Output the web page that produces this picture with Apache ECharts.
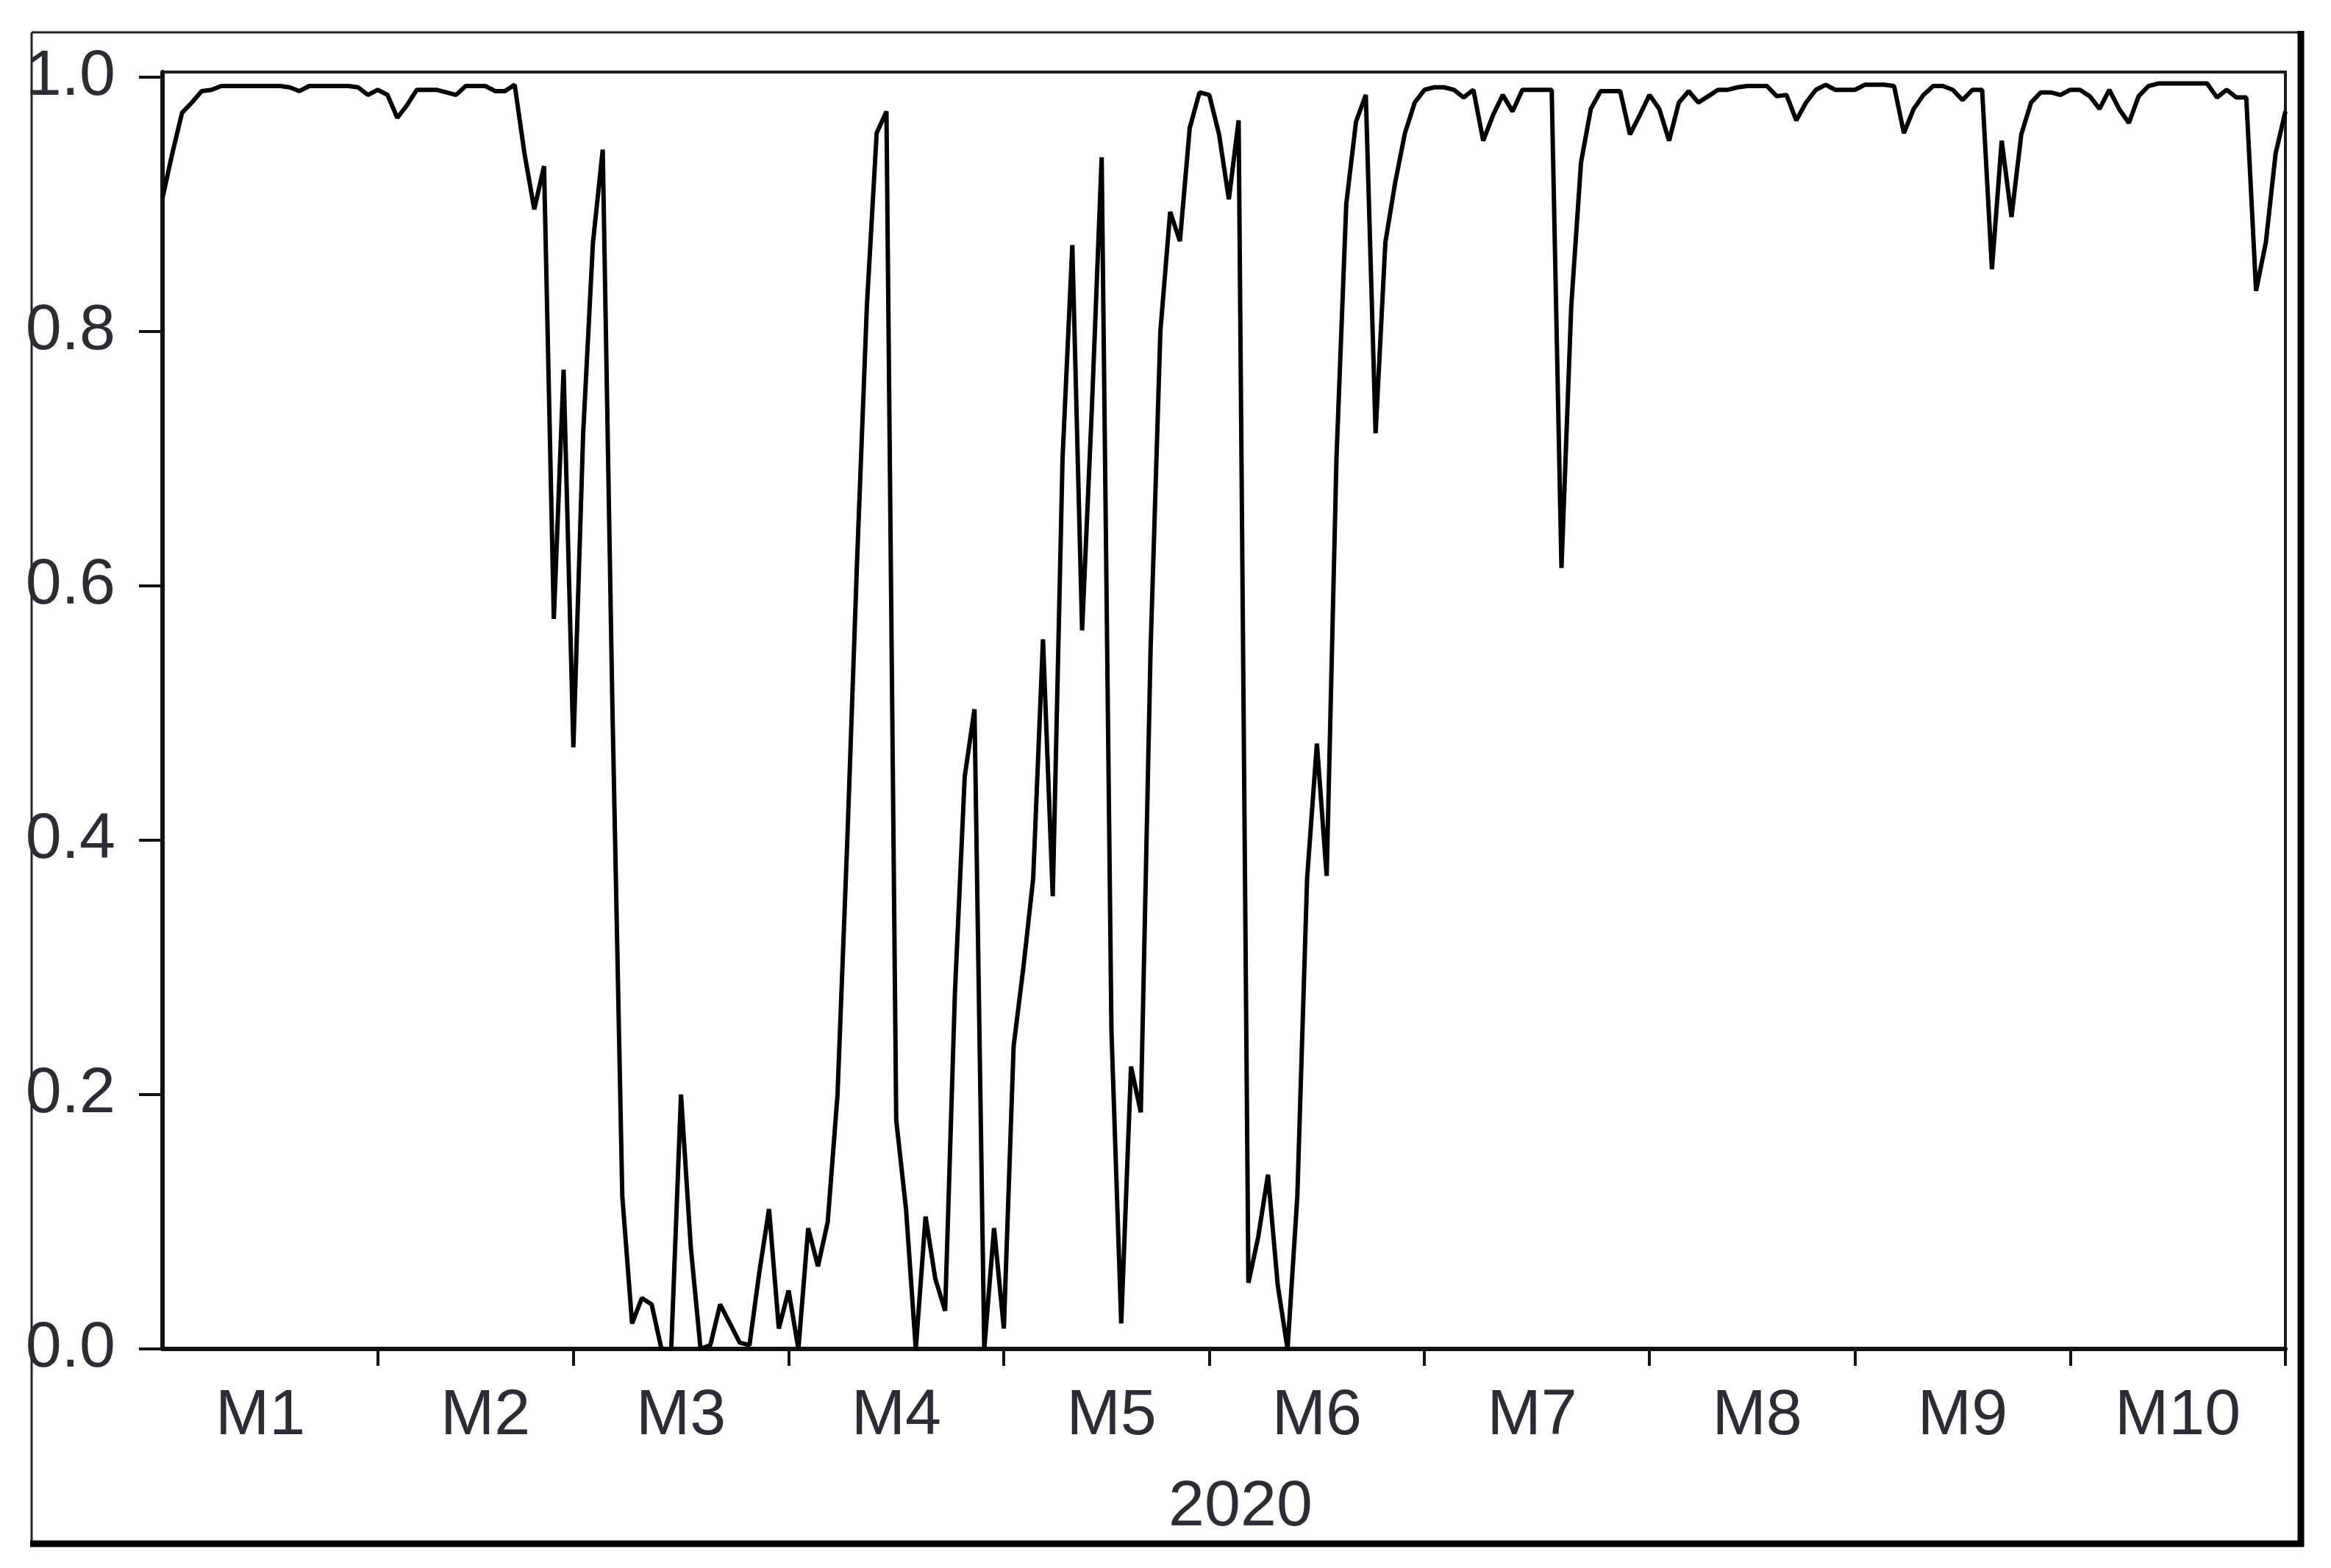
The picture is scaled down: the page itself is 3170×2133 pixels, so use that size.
<!DOCTYPE html>
<html>
<head>
<meta charset="utf-8">
<script src="https://cdn.jsdelivr.net/npm/echarts@6/dist/echarts.min.js"></script>
<style>
html, body { margin: 0; padding: 0; background: #fff; }
#chart { width: 3170px; height: 2133px; }
</style>
</head>
<body>
<div id="chart"></div>
<script>
// smoothed probability, one value per weekday, 2020-01-01 .. 2020-10-30
var jan = [0.905, 0.94, 0.972, 0.98, 0.989, 0.99, 0.993, 0.993, 0.993, 0.993, 0.993, 0.993, 0.993, 0.992, 0.989, 0.993, 0.993, 0.993, 0.993, 0.993, 0.992, 0.986, 0.99];
var feb = [0.986, 0.968, 0.978, 0.99, 0.99, 0.99, 0.988, 0.986, 0.993, 0.993, 0.993, 0.989, 0.989, 0.994, 0.94, 0.896, 0.93, 0.574, 0.77, 0.473];
var mar = [0.72, 0.87, 0.943, 0.50, 0.12, 0.02, 0.04, 0.035, 0.0, 0.0, 0.20, 0.08, 0.0, 0.003, 0.035, 0.02, 0.005, 0.003, 0.06, 0.11, 0.016, 0.046];
var apr = [0.0, 0.095, 0.065, 0.10, 0.20, 0.40, 0.62, 0.82, 0.956, 0.973, 0.18, 0.11, 0.0, 0.104, 0.055, 0.03, 0.28, 0.45, 0.503, 0.0, 0.095, 0.016];
var may = [0.238, 0.30, 0.37, 0.558, 0.356, 0.70, 0.868, 0.565, 0.74, 0.937, 0.25, 0.02, 0.222, 0.186, 0.55, 0.80, 0.894, 0.871, 0.96, 0.988, 0.986];
var jun = [0.955, 0.904, 0.966, 0.052, 0.088, 0.137, 0.05, 0.0, 0.12, 0.37, 0.476, 0.372, 0.70, 0.90, 0.965, 0.986, 0.72, 0.87, 0.917, 0.956, 0.98, 0.99];
var jul = [0.992, 0.992, 0.99, 0.984, 0.99, 0.95, 0.97, 0.986, 0.973, 0.99, 0.99, 0.99, 0.99, 0.614, 0.82, 0.933, 0.975, 0.989, 0.989, 0.989, 0.955, 0.97, 0.986];
var aug = [0.975, 0.95, 0.98, 0.989, 0.98, 0.985, 0.99, 0.99, 0.992, 0.993, 0.993, 0.993, 0.985, 0.986, 0.966, 0.98, 0.99, 0.994, 0.99, 0.99, 0.99];
var sep = [0.994, 0.994, 0.994, 0.993, 0.956, 0.975, 0.986, 0.993, 0.993, 0.99, 0.982, 0.99, 0.99, 0.849, 0.95, 0.89, 0.955, 0.98, 0.988, 0.988, 0.986, 0.99];
var oct = [0.99, 0.985, 0.975, 0.99, 0.975, 0.964, 0.985, 0.993, 0.995, 0.995, 0.995, 0.995, 0.995, 0.995, 0.984, 0.99, 0.984, 0.984, 0.832, 0.87, 0.94, 0.973];

var monthLabels = ['M1', 'M2', 'M3', 'M4', 'M5', 'M6', 'M7', 'M8', 'M9', 'M10'];
var yTicks = [0, 0.2, 0.4, 0.6, 0.8, 1.0];
var yearLabel = '2020';

var values = [].concat(jan, feb, mar, apr, may, jun, jul, aug, sep, oct);

// weekday calendar (5-day data)
var days = [];
var d = new Date(2020, 0, 1);
while (days.length < values.length) {
    if (d.getDay() !== 0 && d.getDay() !== 6) days.push(new Date(d.getTime()));
    d.setDate(d.getDate() + 1);
}
var cats = [], posInMonth = [];
for (var i = 0; i < days.length; i++) {
    var m = days[i].getMonth();
    cats.push(days[i].getFullYear() + '-' + (m + 1 < 10 ? '0' : '') + (m + 1) + '-' + days[i].getDate());
    posInMonth.push(i > 0 && days[i - 1].getMonth() === m ? posInMonth[i - 1] + 1 : 0);
}
function monthEnd(idx) {
    return idx === days.length - 1 || days[idx + 1].getMonth() !== days[idx].getMonth();
}

var font = '"Liberation Sans Narrow", "Liberation Sans", Arial, sans-serif';
var txt = '#2e2a36';

var option = {
    backgroundColor: '#fff',
    animation: false,
    grid: {
        left: 221, right: 62, top: 98, bottom: 298,
        show: true, borderColor: '#1a1a1a', borderWidth: 4
    },
    xAxis: {
        type: 'category',
        data: cats,
        boundaryGap: false,
        name: yearLabel,
        nameLocation: 'middle',
        nameGap: 172,
        nameTextStyle: { fontFamily: font, fontSize: 88, color: txt, padding: [0, 0, 0, 45] },
        axisLine: { lineStyle: { color: '#111', width: 6 } },
        axisTick: {
            inside: false, length: 23,
            interval: function (idx) { return monthEnd(idx); },
            lineStyle: { color: '#111', width: 4 }
        },
        axisLabel: {
            margin: 48,
            interval: function (idx) { return posInMonth[idx] === 10; },
            formatter: function (val, idx) { return monthLabels[days[idx].getMonth()]; },
            fontFamily: font, fontSize: 88, color: txt
        },
        splitLine: { show: false }
    },
    yAxis: {
        type: 'value',
        min: 0,
        max: 1.004,
        axisLine: { show: true, lineStyle: { color: '#111', width: 6 } },
        axisTick: { show: true, length: 32, customValues: yTicks, lineStyle: { color: '#111', width: 4 } },
        axisLabel: {
            margin: 64,
            customValues: yTicks,
            formatter: function (v) { return v.toFixed(1); },
            fontFamily: font, fontSize: 88, color: txt,
            padding: [0, 0, 18, 0]
        },
        splitLine: { show: false }
    },
    series: [{
        type: 'line',
        data: values,
        symbol: 'none',
        lineStyle: { color: '#000', width: 6 },
        z: 3
    }],
    graphic: [
        // outer picture frame, heavier bottom/right edge
        { type: 'line', shape: { x1: 43, y1: 44, x2: 3129, y2: 44 }, style: { stroke: '#222', lineWidth: 3 } },
        { type: 'line', shape: { x1: 43, y1: 44, x2: 43, y2: 2100 }, style: { stroke: '#222', lineWidth: 3 } },
        { type: 'line', shape: { x1: 3129, y1: 42, x2: 3129, y2: 2104 }, style: { stroke: '#000', lineWidth: 9 } },
        { type: 'line', shape: { x1: 41, y1: 2100, x2: 3133, y2: 2100 }, style: { stroke: '#000', lineWidth: 9 } }
    ]
};

var chart = echarts.init(document.getElementById('chart'));
chart.setOption(option);
</script>
</body>
</html>
